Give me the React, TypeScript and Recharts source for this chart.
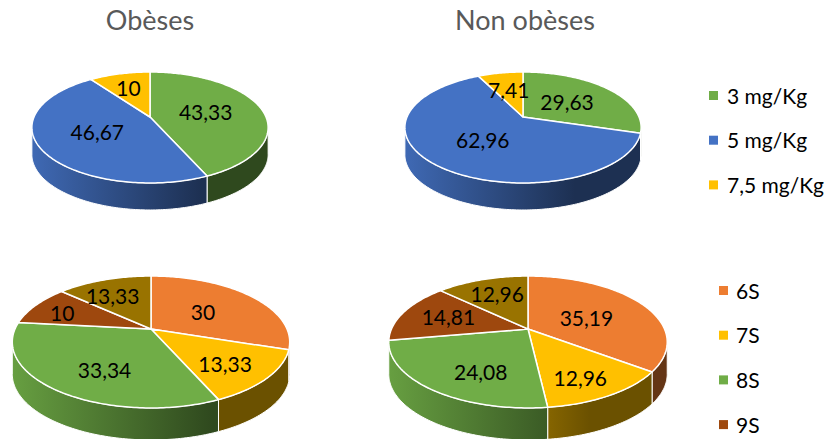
import React from 'react';
import { PieChart, Pie } from 'recharts';

const doseNames = ['3 mg/Kg', '5 mg/Kg', '7,5 mg/Kg'];
const doseColors = ['#70AD47', '#4472C4', '#FFC000'];
const doseObese = [43.33, 46.67, 10];
const doseNonObese = [29.63, 62.96, 7.41];

const weekNames = ['6S', '7S', '8S', '9S', '10S'];
const weekColors = ['#ED7D31', '#FFC000', '#70AD47', '#9E480E', '#997300'];
const weekObese = [30, 13.33, 33.34, 10, 13.33];
const weekNonObese = [35.19, 12.96, 24.08, 14.81, 12.96];

const titles = ['Obèses', 'Non obèses'];
const doseLegend = [0, 1, 2];
const weekLegend = [0, 1, 2, 3];

const FONT = 'Lato, sans-serif';

const toTable = (names: string[], colors: string[], values: number[]) =>
  values.map((value, i) => ({ name: names[i], value, fill: colors[i] }));

// fake 3D view: a perspective projection of the flat pie, like the Excel one
type View = { id: string; cx: number; cy: number; a: number; b: number; k: number; depth: number; halfWidth: number; nudges: number[][] };

const project = (view: View, deg: number, r = 1) => {
  const t = (deg * Math.PI) / 180;
  const u = r * Math.sin(t);
  const v = -r * Math.cos(t);
  const w = 1 - view.k * v;
  return { x: view.cx + (u * view.a) / w, y: view.cy + (v * view.b) / w };
};

const toPath = (pts: { x: number; y: number }[]) =>
  pts.map((p, i) => `${i ? 'L' : 'M'}${p.x.toFixed(2)},${p.y.toFixed(2)}`).join(' ') + ' Z';

const shade = (hex: string, f: number) => {
  const n = parseInt(hex.slice(1), 16);
  const c = [(n >> 16) & 255, (n >> 8) & 255, n & 255].map((x) => Math.round(x * f));
  return `rgb(${c.join(',')})`;
};

const sliceShape = (view: View) => (props: any) => {
  const from = 90 - props.startAngle;
  const to = 90 - props.endAngle;
  const rim: { x: number; y: number }[] = [];
  const front: { x: number; y: number }[] = [];
  const steps = Math.max(2, Math.ceil(to - from));
  for (let i = 0; i <= steps; i++) {
    const deg = from + ((to - from) * i) / steps;
    const p = project(view, deg);
    rim.push(p);
    if (-Math.cos((deg * Math.PI) / 180) >= view.k) front.push(p);
  }
  const gid = `wall-${view.id}-${Math.round(from)}`;
  const wall = [...front, ...[...front].reverse().map((p) => ({ x: p.x, y: p.y + view.depth }))];
  return (
    <g>
      <defs>
        <linearGradient id={gid} gradientUnits="userSpaceOnUse" x1={view.cx - view.halfWidth} x2={view.cx + view.halfWidth} y1={0} y2={0}>
          <stop offset="0%" stopColor={shade(props.fill, 0.92)} />
          <stop offset="72%" stopColor={shade(props.fill, 0.42)} />
          <stop offset="100%" stopColor={shade(props.fill, 0.42)} />
        </linearGradient>
      </defs>
      {front.length > 1 && <path d={toPath(wall)} fill={`url(#${gid})`} stroke="#fff" strokeWidth={1} strokeLinejoin="round" />}
      <path d={toPath([{ x: view.cx, y: view.cy }, ...rim])} fill={props.fill} stroke="#fff" strokeWidth={1.5} strokeLinejoin="round" />
    </g>
  );
};

const sliceLabel = (view: View) => (props: any) => {
  const p = project(view, 90 - props.midAngle, 0.5);
  const [dx, dy] = view.nudges[props.index];
  return (
    <text x={p.x + dx} y={p.y + dy} textAnchor="middle" dominantBaseline="central" fill="#000" fontFamily={FONT} fontSize={21}>
      {String(props.value).replace('.', ',')}
    </text>
  );
};

const topLeft: View = { id: 'tl', cx: 150, cy: 117, a: 116, b: 53.5, k: 0.189, depth: 27, halfWidth: 118, nudges: [[0, 0], [0, 0], [-5, -6]] };
const topRight: View = { id: 'tr', cx: 523, cy: 117, a: 116, b: 53.5, k: 0.189, depth: 27, halfWidth: 118, nudges: [[0, 0], [0, 0], [-2, -4]] };
const bottomLeft: View = { id: 'bl', cx: 151, cy: 329, a: 136, b: 63.4, k: 0.197, depth: 32, halfWidth: 139, nudges: [[0, 0], [20, 12], [-3, 13], [-29, -4], [-13, -7]] };
const bottomRight: View = { id: 'br', cx: 528, cy: 329, a: 136.5, b: 63.4, k: 0.197, depth: 32, halfWidth: 139.5, nudges: [[0, 2], [15, 18], [-3, 15], [-16, -4], [-6, -9]] };

const pies = [
  { view: topLeft, data: toTable(doseNames, doseColors, doseObese) },
  { view: topRight, data: toTable(doseNames, doseColors, doseNonObese) },
  { view: bottomLeft, data: toTable(weekNames, weekColors, weekObese) },
  { view: bottomRight, data: toTable(weekNames, weekColors, weekNonObese) },
];

const App = () => {
  return (
    <div style={{ position: 'absolute', left: 0, top: 0, width: 827, height: 439, overflow: 'hidden', background: '#fff' }}>
      <PieChart width={827} height={439} margin={{ top: 0, right: 0, bottom: 0, left: 0 }}>
        {pies.map(({ view, data }) => (
          <Pie
            key={view.id}
            data={data}
            dataKey="value"
            nameKey="name"
            cx={view.cx}
            cy={view.cy}
            outerRadius={view.a}
            startAngle={90}
            endAngle={-270}
            isAnimationActive={false}
            shape={sliceShape(view)}
            label={sliceLabel(view)}
            labelLine={false}
          />
        ))}
        <text x={150} y={19} textAnchor="middle" dominantBaseline="central" fill="#595959" fontFamily={FONT} fontSize={27}>{titles[0]}</text>
        <text x={525} y={19} textAnchor="middle" dominantBaseline="central" fill="#595959" fontFamily={FONT} fontSize={27}>{titles[1]}</text>
        {doseLegend.map((i) => (
          <g key={doseNames[i]}>
            <rect x={709} y={91 + i * 44.7} width={9} height={9} fill={doseColors[i]} />
            <text x={727} y={95 + i * 44.7} dominantBaseline="central" fill="#000" fontFamily={FONT} fontSize={21}>{doseNames[i]}</text>
          </g>
        ))}
        {weekLegend.map((i) => (
          <g key={weekNames[i]}>
            <rect x={719} y={286 + i * 44.7} width={9} height={9} fill={weekColors[i]} />
            <text x={736} y={290 + i * 44.7} dominantBaseline="central" fill="#000" fontFamily={FONT} fontSize={21}>{weekNames[i]}</text>
          </g>
        ))}
      </PieChart>
    </div>
  );
};

export default App;
